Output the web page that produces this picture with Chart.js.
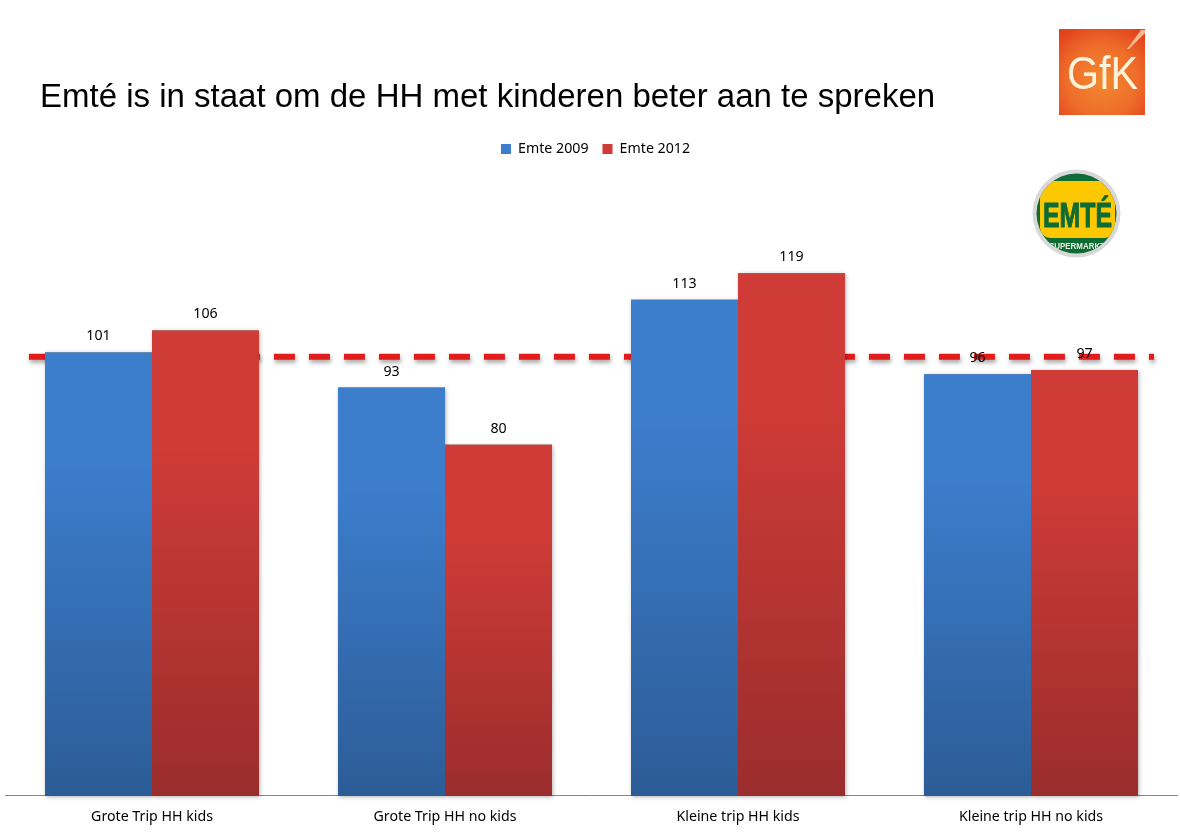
<!DOCTYPE html>
<html><head><meta charset="utf-8">
<script src="https://cdn.jsdelivr.net/npm/chart.js@4"></script>
<style>
html,body{margin:0;padding:0;background:#fff;width:1180px;height:836px;overflow:hidden}
#wrap{position:relative;width:1180px;height:836px}
canvas{position:absolute;left:0;top:0}
h1{position:absolute;left:40px;top:77px;margin:0;font:400 33px "Liberation Sans",Arial,sans-serif;color:#000;white-space:nowrap}
svg{position:absolute}
</style></head><body>
<div id="wrap">
<canvas id="c" width="1180" height="836"></canvas>
<h1>Emté is in staat om de HH met kinderen beter aan te spreken</h1>
<svg style="left:1059px;top:29px" width="86" height="86" viewBox="0 0 86 86">
<defs><radialGradient id="g" cx="50%" cy="60%" r="70%"><stop offset="0" stop-color="#f38a30"/><stop offset="0.6" stop-color="#ee6c2a"/><stop offset="1" stop-color="#e3431c"/></radialGradient></defs>
<rect width="86" height="86" fill="url(#g)"/>
<path d="M68 20 L82 1 L86 1 L86 4 L70 20Z" fill="#f6b890"/>
<text x="43.5" y="60" text-anchor="middle" font-family="Liberation Sans" font-size="47" fill="#fff3dc" textLength="71" lengthAdjust="spacingAndGlyphs">GfK</text>
</svg>
<svg style="left:1030px;top:168px" width="92" height="92" viewBox="0 0 92 92">
<defs><clipPath id="disc"><circle cx="46.5" cy="45.5" r="40"/></clipPath></defs>
<circle cx="46.5" cy="45.5" r="44" fill="#d8d8d8"/>
<circle cx="46.5" cy="45.5" r="40" fill="#0f6b34"/>
<rect x="10" y="13" width="75" height="57" rx="10" fill="#fdc800" clip-path="url(#disc)"/>
<text x="47.5" y="59" text-anchor="middle" font-family="Liberation Sans" font-weight="700" font-size="35" fill="#0f6b34" stroke="#0f6b34" stroke-width="1" textLength="69" lengthAdjust="spacingAndGlyphs">EMTÉ</text>
<text x="47" y="81" text-anchor="middle" font-family="Liberation Sans" font-weight="700" font-size="8.5" fill="#e8f0e0" textLength="56" lengthAdjust="spacingAndGlyphs" clip-path="url(#disc)">SUPERMARKT</text>
</svg>
</div>
<script>
const categories = ["Grote Trip HH kids","Grote Trip HH no kids","Kleine trip HH kids","Kleine trip HH no kids"];
const emte2009 = [101,93,113,96];
const emte2012 = [106,80,119,97];
const referenceValue = 100;
const referenceSpan = [-0.42,3.42];
const yMax = 143.4;

function barGradient(top,bottom){
  return function(ctx){
    const ys = ctx.chart.scales.y;
    if(!ys || !ctx.parsed) return top;
    const y0 = ys.getPixelForValue(ctx.parsed.y), y1 = ys.getPixelForValue(0);
    if(!isFinite(y0) || !isFinite(y1)) return top;
    const g = ctx.chart.ctx.createLinearGradient(0,y0,0,y1);
    g.addColorStop(0,top); g.addColorStop(0.25,top); g.addColorStop(1,bottom);
    return g;
  };
}
const legendShift = {
  id:'legendShift',
  afterLayout(chart){ chart.legend.left += 4; chart.legend.right += 4; }
};
const underlay = {
  id:'underlay',
  beforeDatasetsDraw(chart){
    const c=chart.ctx, x=chart.scales.x, y=chart.scales.y;
    c.save();
    // dashed reference line, behind the bars
    c.strokeStyle='#e21b1b'; c.lineWidth=6; c.setLineDash([21,14]);
    c.shadowColor='rgba(0,0,0,0.35)'; c.shadowBlur=4; c.shadowOffsetX=1; c.shadowOffsetY=3;
    const py=y.getPixelForValue(referenceValue);
    c.beginPath(); c.moveTo(x.getPixelForValue(referenceSpan[0]),py); c.lineTo(x.getPixelForValue(referenceSpan[1]),py); c.stroke();
    c.setLineDash([]);
    // bar shadows, all painted before any bar so that they do not fall on a neighbour
    c.shadowColor='rgba(0,0,0,0.3)'; c.shadowBlur=4; c.shadowOffsetX=1; c.shadowOffsetY=1;
    c.fillStyle='#666';
    chart.data.datasets.forEach((d,i)=>{
      chart.getDatasetMeta(i).data.forEach(b=>{
        c.fillRect(b.x-b.width/2,b.y,b.width,b.base-b.y);
      });
    });
    c.restore();
  }
};
const valueLabels = {
  id:'valueLabels',
  afterDatasetsDraw(chart){
    const c=chart.ctx; c.save();
    c.font='14.2px "Noto Sans"'; c.fillStyle='#000'; c.textAlign='center'; c.textBaseline='middle';
    chart.data.datasets.forEach((d,i)=>{
      chart.getDatasetMeta(i).data.forEach((b,j)=>{ c.fillText(String(d.data[j]),b.x,b.y-16); });
    });
    c.restore();
  }
};
Chart.defaults.font.family='"Noto Sans"';
new Chart(document.getElementById('c'),{
  type:'bar',
  data:{labels:categories,datasets:[
    {label:'Emte 2009',data:emte2009,backgroundColor:barGradient('#3c7dcc','#2c5c96'),categoryPercentage:0.7304,barPercentage:1},
    {label:'Emte 2012',data:emte2012,backgroundColor:barGradient('#cf3b37','#9a2d2c'),categoryPercentage:0.7304,barPercentage:1}
  ]},
  plugins:[legendShift,underlay,valueLabels],
  options:{
    responsive:false,animation:false,
    layout:{padding:{left:5.5,right:2.5,top:128,bottom:-2}},
    plugins:{
      tooltip:{enabled:false},
      legend:{position:'top',labels:{boxWidth:10,boxHeight:10,color:'#000',padding:14,font:{size:14.2}}}
    },
    scales:{
      x:{grid:{display:false,drawTicks:false},border:{color:'#868686'},ticks:{color:'#000',font:{size:14.2},padding:12.5,maxRotation:0}},
      y:{display:false,min:0,max:yMax}
    }
  }
});
</script>
</body></html>
